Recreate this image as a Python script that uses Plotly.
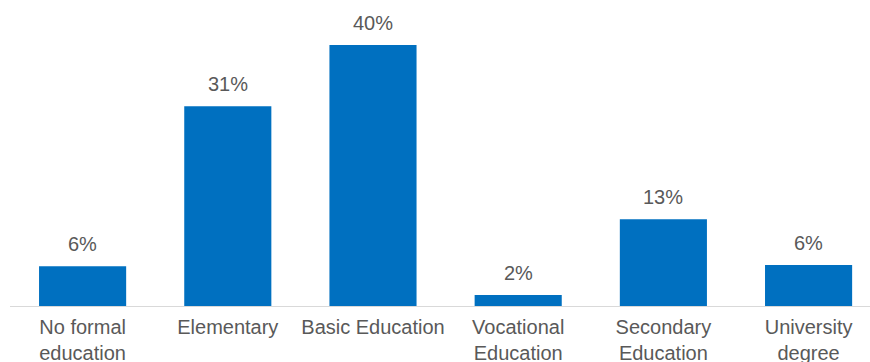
import plotly.graph_objects as go

categories = ["No formal<br>education", "Elementary", "Basic Education",
              "Vocational<br>Education", "Secondary<br>Education", "University<br>degree"]
values = [6.1, 30.6, 40.0, 1.7, 13.3, 6.3]
labels = [f"{round(v):d}%" for v in values]

BLUE = "#0070C0"
GRAY = "#595959"
FONT = "Liberation Sans, Arial, sans-serif"
FS = 20

fig = go.Figure()
fig.add_trace(go.Bar(
    x=list(range(len(categories))), y=values,
    marker=dict(color=BLUE, line=dict(width=0)),
    width=0.6, hoverinfo="skip",
))
for i, (v, t) in enumerate(zip(values, labels)):
    fig.add_annotation(x=i, y=v, text=t, showarrow=False, yanchor="bottom",
                       yshift=9, font=dict(size=FS, color=GRAY, family=FONT))

fig.update_layout(
    width=870, height=362,
    margin=dict(l=10, r=0, t=0, b=56, autoexpand=False),
    paper_bgcolor="white", plot_bgcolor="white",
    showlegend=False,
    font=dict(family=FONT, color=GRAY, size=FS),
    xaxis=dict(
        tickmode="array", tickvals=list(range(len(categories))), ticktext=categories,
        range=[-0.5, 5.423], showgrid=False, zeroline=False,
        showline=True, linecolor="#d9d9d9", linewidth=1,
        ticks="", ticklabelstandoff=3, automargin=False,
        tickfont=dict(size=FS, color=GRAY, family=FONT),
    ),
    yaxis=dict(range=[0, 46.9], visible=False, showgrid=False, zeroline=False,
               automargin=False),
)
fig.write_html("out.html")
